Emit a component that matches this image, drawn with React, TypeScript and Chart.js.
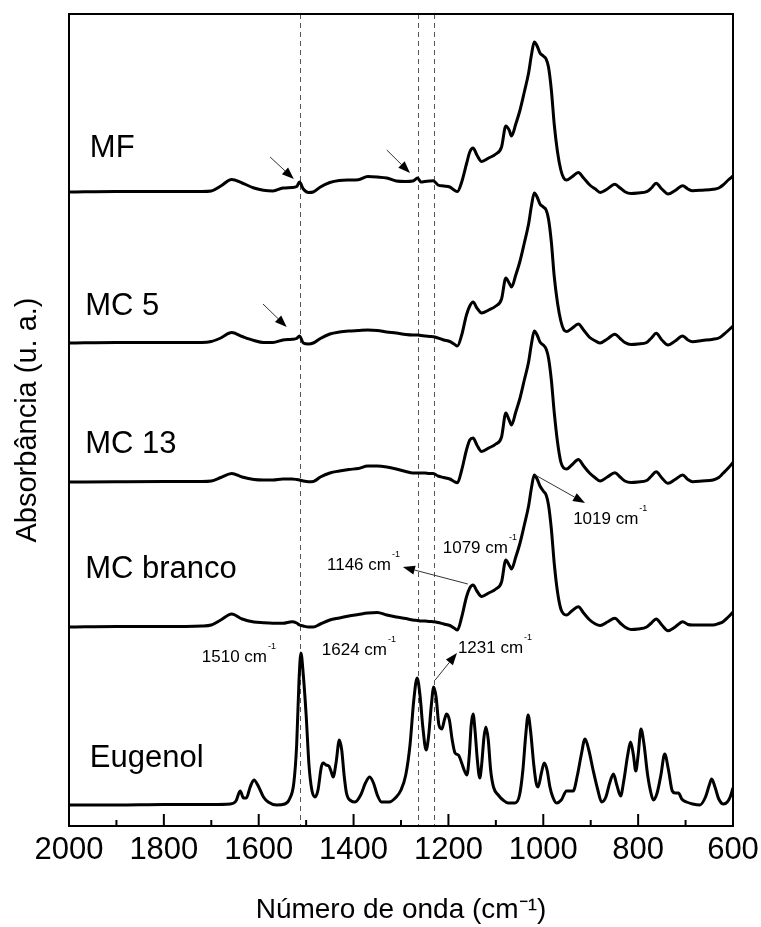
import React, { useEffect, useRef } from 'react';
import { Chart, registerables } from 'chart.js';

Chart.register(...registerables);

const FONT = "'Liberation Sans', Arial, Helvetica, sans-serif";

// Shared wavenumber grid (cm-1) for the four microcapsule spectra
const wnSamples = [
  2000, 1900, 1800, 1720, 1700, 1680, 1657, 1635, 1610, 1590,
  1570, 1549, 1530, 1520, 1514, 1506, 1495, 1485, 1470, 1450,
  1430, 1410, 1390, 1370, 1350, 1330, 1310, 1290, 1275, 1265,
  1258, 1250, 1240, 1232, 1222, 1210, 1197, 1188, 1181, 1172,
  1162, 1155, 1148, 1140, 1130, 1115, 1100, 1088, 1079, 1072,
  1067, 1058, 1049, 1040, 1031, 1025, 1019, 1013, 1007, 1000,
  994, 989, 983, 977, 970, 963, 957, 951, 940, 926,
  915, 902, 890, 880, 865, 849, 838, 828, 815, 800,
  782, 772, 762, 750, 737, 722, 706, 695, 685, 665,
  642, 630, 621, 610, 600,
];

const absMF = [
  0, 0.5, 0.5, 0.5, 1, 6, 12.5, 9, 4, 1.7,
  1, 4, 4.5, 5.5, 10, 3, -0.5, 0, 5, 9.5,
  11.5, 12, 12.3, 15.5, 15, 14, 11, 10.5, 11, 14,
  10, 10.5, 11, 11.3, 7, 6, 5, 2, 0.5, 10,
  28, 40, 44, 37, 30.5, 34, 38, 45, 66, 62,
  56, 68, 82, 100, 119, 137, 150, 146, 139, 136,
  133, 125, 102, 68, 40, 22, 14, 12, 15, 19.5,
  14, 7, 3, -0.5, 3, 7.7, 4, 0.3, -1.5, -1,
  0.3, 4, 8.7, 3, -2, 1.5, 6.3, 3, 1.3, 1.8,
  2.7, 4, 7, 12, 16,
];

const absMC5 = [
  0, 0.5, 0.5, 0.5, 1.5, 5, 10.5, 6.5, 2.5, 0.5,
  0.5, 3, 3.7, 4.5, 7, 0, -1, 0, 4.5, 9,
  11, 12, 12.5, 13, 12.5, 11, 10, 8.5, 8, 8,
  7.5, 7, 6.5, 6.3, 5, 3, 1.5, -1, -3, 8,
  28, 37, 41, 35, 30, 33, 37, 44, 65, 60,
  56, 68, 82, 100, 119, 137, 150, 146, 139, 136,
  133, 124, 101, 67, 40, 22, 13.5, 11.5, 14.5, 19,
  13, 5.5, 2, 0, 4, 8.7, 4.5, 0.5, -1.5, -1,
  0.5, 5, 9.7, 3, -2, 2, 7, 3, 1.3, 2.5,
  3.7, 5, 8, 12.5, 17,
];

const absMC13 = [
  0, 0.3, 0.5, 0.5, 1, 4.5, 8.5, 5, 2.5, 2,
  2, 3, 3, 2.5, 2, 1, 0.3, 0.5, 5, 9,
  11, 12.5, 13.5, 16, 16, 15, 13, 10.5, 9, 9,
  9, 9, 8.5, 8.5, 6, 4.5, 3, 0.5, -0.7, 12,
  32, 42, 44, 37, 30.5, 34, 38, 45, 69, 62,
  57, 70, 84, 102, 120, 138, 151, 147, 140, 137,
  133, 124, 102, 70, 40, 20, 14, 13, 17, 22.5,
  16, 8.7, 4, 1, 5, 9.3, 5, 1, -0.5, 0,
  1.5, 6, 10.3, 4, -1.3, 2.5, 7, 2.5, 0.3, 1,
  2, 4.5, 8.7, 14, 19.5,
];

const absMCBranco = [
  0, 0.5, 0.5, 1, 2, 7, 13, 8, 5, 4.3,
  3.8, 3.7, 5.3, 4, 2, 1, 0, 0, 3, 7,
  9, 11, 12.5, 14, 14.5, 12, 10, 8.5, 7, 6.5,
  6, 6, 5.5, 5.3, 4.5, 3, 1.5, -1, -3, 10,
  30, 39, 42, 36, 30.5, 34, 38, 45, 67, 62,
  58, 70, 84, 102, 121, 139, 152, 148, 141, 136,
  132, 122, 98, 64, 35, 18, 13, 12, 16, 20.3,
  14, 7, 3, 1.5, 5, 8.7, 4, 0, -2.5, -2,
  0, 4, 8, 2, -3.7, 0, 5.3, 2.5, 2, 2,
  2, 3.5, 5.3, 10, 15,
];

// Eugenol spectrum
const wnEugenol = [
  2000, 1900, 1800, 1700, 1660, 1648, 1639, 1632, 1626, 1618,
  1610, 1600, 1590, 1580, 1562, 1545, 1535, 1526, 1520, 1515,
  1511, 1506, 1500, 1494, 1488, 1481, 1475, 1468, 1464, 1458,
  1452, 1447, 1443, 1437, 1430, 1425, 1420, 1415, 1405, 1397,
  1385, 1375, 1366, 1358, 1350, 1341, 1325, 1310, 1300, 1290,
  1281, 1273, 1266, 1260, 1254, 1247, 1242, 1236, 1231, 1226,
  1220, 1214, 1208, 1204, 1198, 1192, 1186, 1179, 1172, 1166,
  1161, 1156, 1152, 1148, 1144, 1139, 1134, 1130, 1125, 1121,
  1116, 1111, 1105, 1095, 1085, 1074, 1060, 1050, 1043, 1037,
  1032, 1027, 1020, 1015, 1011, 1004, 998, 992, 986, 980,
  972, 962, 951, 937, 928, 920, 912, 904, 895, 885,
  877, 868, 860, 852, 845, 837, 830, 822, 816, 810,
  805, 800, 794, 788, 780, 772, 768, 760, 752, 744,
  736, 728, 722, 715, 708, 698, 685, 670, 658, 650,
  645, 638, 630, 620, 612, 606, 600,
];

const absEugenol = [
  0, 0, 0.5, 0.5, 1, 4, 14, 7, 7, 18,
  25, 18, 8, 3, 0, 1, 6, 22, 60, 125,
  152, 130, 90, 40, 15, 8, 15, 38, 42, 40,
  39, 33, 28, 42, 65, 55, 30, 12, 4, 3,
  10, 22, 28, 22, 10, 3, 3, 8, 15, 30,
  60, 105, 127, 110, 78, 55, 68, 100, 118, 108,
  80, 76, 86, 91, 85, 65, 52, 50, 42, 34,
  30, 50, 80, 91, 75, 45, 27, 40, 68, 78,
  65, 35, 18, 10, 5, 2, 2, 10, 35, 70,
  90, 75, 40, 22, 18, 32, 42, 35, 18, 8,
  2, 5, 14, 14, 30, 50, 66, 55, 35, 15,
  3, 8, 22, 31, 20, 9, 25, 50, 63, 50,
  34, 50, 76, 62, 30, 10, 5, 12, 30, 51,
  35, 14, 12, 12, 6, 3, 1, 0, 8, 20,
  26, 18, 6, 1, 3, 8, 17,
];

const seriesNames = ['MF', 'MC 5', 'MC 13', 'MC branco', 'Eugenol'];
const stackOffsets = [634, 483, 344, 199, 21];
// where each series name is written: [wavenumber, y value]
const nameAnchors: [number, number][] = [
  [1956, 669], [1966, 511], [1966, 373], [1966, 248], [1956, 59],
];

const majorTicks = [2000, 1800, 1600, 1400, 1200, 1000, 800, 600];
const minorTicks = [1900, 1700, 1500, 1300, 1100, 900, 700];
const markerLines = [1512, 1265, 1231];

// band labels: [text, wavenumber (left edge), y value (baseline)]
const bandLabels: [string, number, number][] = [
  ['1019 cm', 937, 302],
  ['1079 cm', 1212, 273],
  ['1146 cm', 1456, 256],
  ['1510 cm', 1720, 164],
  ['1624 cm', 1467, 171],
  ['1231 cm', 1180, 173],
];

// arrows: [fromWn, fromY, toWn, toY]
const arrows: [number, number, number, number][] = [
  [1017, 351, 912, 323],
  [1159, 242, 1296, 259],
  [1228, 146, 1182, 173],
  [1576, 669, 1526, 647],
  [1330, 676, 1281, 653],
  [1591, 522, 1541, 499],
];

function drawArrow(ctx: CanvasRenderingContext2D, x1: number, y1: number, x2: number, y2: number) {
  const ang = Math.atan2(y2 - y1, x2 - x1);
  const hl = 12;
  const hw = 4.5;
  const bx = x2 - hl * Math.cos(ang);
  const by = y2 - hl * Math.sin(ang);
  ctx.strokeStyle = '#333';
  ctx.lineWidth = 1;
  ctx.beginPath();
  ctx.moveTo(x1, y1);
  ctx.lineTo(bx, by);
  ctx.stroke();
  ctx.fillStyle = '#000';
  ctx.beginPath();
  ctx.moveTo(x2, y2);
  ctx.lineTo(bx + hw * Math.sin(ang), by - hw * Math.cos(ang));
  ctx.lineTo(bx - hw * Math.sin(ang), by + hw * Math.cos(ang));
  ctx.closePath();
  ctx.fill();
}

const overlayPlugin = {
  id: 'spectraOverlay',
  beforeDatasetsDraw(chart: any) {
    const { ctx, chartArea: a, scales } = chart;
    const x = scales.x;
    ctx.save();
    ctx.strokeStyle = '#555';
    ctx.lineWidth = 1;
    ctx.setLineDash([5, 4]);
    markerLines.forEach((wn) => {
      const px = Math.round(x.getPixelForValue(wn)) + 0.5;
      ctx.beginPath();
      ctx.moveTo(px, a.top);
      ctx.lineTo(px, a.bottom);
      ctx.stroke();
    });
    ctx.restore();
  },
  afterDatasetsDraw(chart: any) {
    const { ctx, chartArea: a, scales } = chart;
    const x = scales.x;
    const y = scales.y;
    ctx.save();
    // frame
    ctx.strokeStyle = '#000';
    ctx.lineWidth = 2;
    ctx.strokeRect(a.left, a.top, a.right - a.left, a.bottom - a.top);
    // inward ticks on the bottom axis
    ctx.lineWidth = 2;
    majorTicks.forEach((wn) => {
      const px = x.getPixelForValue(wn);
      ctx.beginPath();
      ctx.moveTo(px, a.bottom);
      ctx.lineTo(px, a.bottom - 12);
      ctx.stroke();
    });
    minorTicks.forEach((wn) => {
      const px = x.getPixelForValue(wn);
      ctx.beginPath();
      ctx.moveTo(px, a.bottom);
      ctx.lineTo(px, a.bottom - 6);
      ctx.stroke();
    });
    // series names
    ctx.fillStyle = '#000';
    ctx.font = `31px ${FONT}`;
    ctx.textAlign = 'left';
    ctx.textBaseline = 'alphabetic';
    chart.data.datasets.forEach((ds: any, i: number) => {
      const [wn, v] = nameAnchors[i];
      ctx.fillText(ds.label, x.getPixelForValue(wn), y.getPixelForValue(v));
    });
    // band labels with superscript -1
    bandLabels.forEach(([t, wn, v]) => {
      const px = x.getPixelForValue(wn);
      const py = y.getPixelForValue(v);
      ctx.font = `17px ${FONT}`;
      ctx.fillText(t, px, py);
      const w = ctx.measureText(t).width;
      ctx.font = `9px ${FONT}`;
      ctx.fillText('-1', px + w + 1, py - 13);
    });
    // arrows
    arrows.forEach(([w1, v1, w2, v2]) => {
      drawArrow(ctx, x.getPixelForValue(w1), y.getPixelForValue(v1), x.getPixelForValue(w2), y.getPixelForValue(v2));
    });
    ctx.restore();
  },
};

export default function App() {
  const canvasRef = useRef<HTMLCanvasElement | null>(null);

  useEffect(() => {
    const canvas = canvasRef.current;
    if (!canvas) return;
    const seriesValues = [absMF, absMC5, absMC13, absMCBranco];
    const datasets: any[] = seriesValues.map((vals, i) => ({
      label: seriesNames[i],
      data: wnSamples.map((wn, j) => ({ x: wn, y: vals[j] + stackOffsets[i] })),
      borderColor: '#000',
      borderWidth: 3,
      pointRadius: 0,
      fill: false,
      cubicInterpolationMode: 'monotone',
    }));
    datasets.push({
      label: seriesNames[4],
      data: wnEugenol.map((wn, j) => ({ x: wn, y: absEugenol[j] + stackOffsets[4] })),
      borderColor: '#000',
      borderWidth: 3,
      pointRadius: 0,
      fill: false,
      cubicInterpolationMode: 'monotone',
    });

    const chart = new Chart(canvas, {
      type: 'line',
      data: { datasets },
      options: {
        animation: false,
        responsive: false,
        devicePixelRatio: 1,
        layout: { padding: { left: 0, right: 28, top: 14, bottom: 0 } },
        plugins: {
          legend: { display: false },
          tooltip: { enabled: false },
        },
        scales: {
          x: {
            type: 'linear',
            reverse: true,
            min: 600,
            max: 2000,
            afterBuildTicks: (scale: any) => {
              scale.ticks = majorTicks.map((v) => ({ value: v }));
            },
            ticks: {
              color: '#000',
              font: { family: FONT, size: 31 },
              padding: 6,
              maxRotation: 0,
              autoSkip: false,
              callback: (v: any) => String(v),
            },
            grid: { display: false, drawTicks: false },
            border: { display: false },
            title: {
              display: true,
              text: 'Número de onda (cm⁻¹)',
              color: '#000',
              font: { family: FONT, size: 28 },
              padding: { top: 0, bottom: 0 },
            },
            afterFit: (scale: any) => {
              scale.height = 101;
              scale.paddingLeft = 0;
              scale.paddingRight = 0;
            },
          },
          y: {
            type: 'linear',
            min: 0,
            max: 812,
            ticks: { display: false },
            grid: { display: false, drawTicks: false },
            border: { display: false },
            title: {
              display: true,
              text: 'Absorbância (u. a.)',
              color: '#000',
              font: { family: FONT, size: 29 },
              padding: { top: 11, bottom: 0 },
            },
            afterFit: (scale: any) => {
              scale.width = 69;
            },
          },
        },
      } as any,
      plugins: [overlayPlugin],
    });
    return () => chart.destroy();
  }, []);

  return (
    <div style={{ position: 'fixed', left: 0, top: 0, width: 761, height: 927, background: '#fff' }}>
      <canvas ref={canvasRef} width={761} height={927} style={{ width: 761, height: 927, display: 'block' }} />
    </div>
  );
}
